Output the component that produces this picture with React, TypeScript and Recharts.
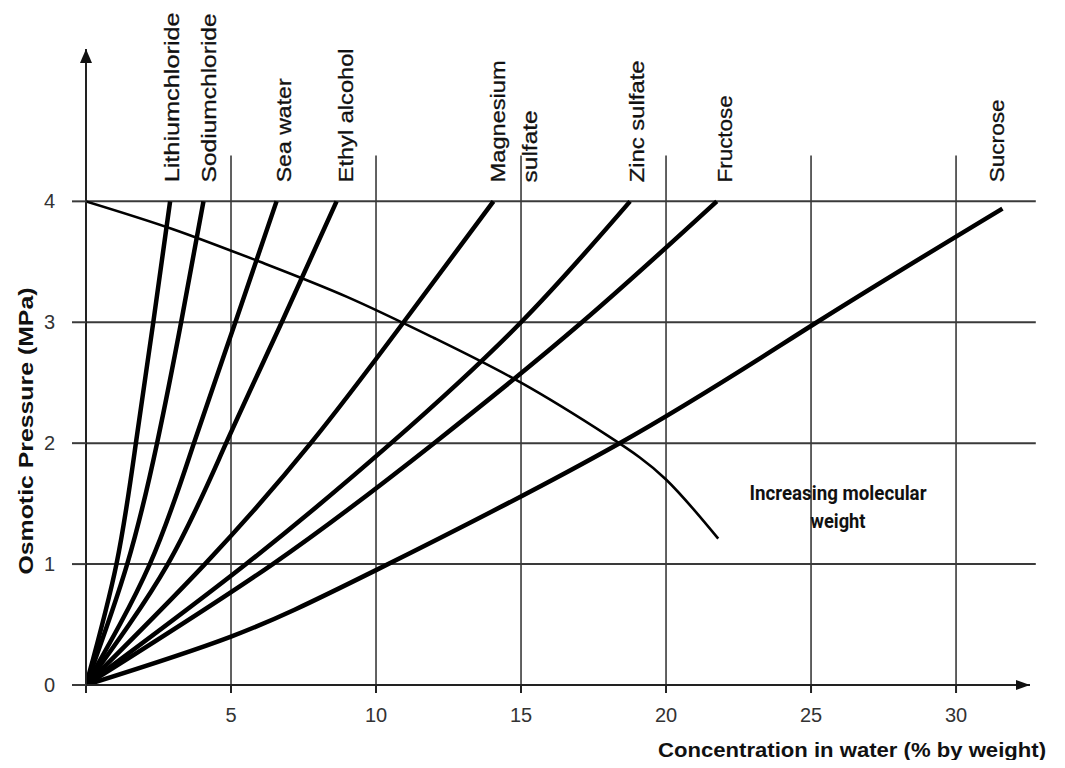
import React from "react";
import {
  LineChart,
  Line,
  XAxis,
  YAxis,
  ReferenceLine,
  ReferenceDot,
  Label,
} from "recharts";

const pressureLevels = [0, 1, 2, 3, 4];

// concentration (% by weight) reaching each pressure level
const lithiumChloride = [0, 1.05, 1.72, 2.32, 2.9];
const sodiumChloride = [0, 1.42, 2.45, 3.28, 4.05];
const seaWater = [0, 2.2, 3.72, 5.15, 6.57];
const ethylAlcohol = [0, 2.82, 4.83, 6.75, 8.64];
const magnesiumSulfate = [0, 4.1, 7.75, 10.95, 14.05];
const zincSulfate = [0, 5.52, 10.52, 15.0, 18.76];
const fructose = [0, 6.44, 12.0, 17.1, 21.75];

// sucrose stops short of 4 MPa
const sucroseConcentration = [0, 5, 10, 18.4, 25.2, 31.6];
const sucrosePressure = [0, 0.4, 0.95, 2, 3, 3.94];

// "increasing molecular weight" trend curve
const weightConcentration = [0, 3, 6, 9, 12, 15, 18, 20, 21.8];
const weightPressure = [4, 3.77, 3.5, 3.21, 2.87, 2.5, 2.06, 1.7, 1.21];

const xTicks = [0, 5, 10, 15, 20, 25, 30];
const yTicks = [0, 1, 2, 3, 4];
const gridX = [5, 10, 15, 20, 25, 30];
const gridY = [1, 2, 3, 4];

const curveLabels = [
  "Lithiumchloride",
  "Sodiumchloride",
  "Sea water",
  "Ethyl alcohol",
  "Magnesium",
  "sulfate",
  "Zinc sulfate",
  "Fructose",
  "Sucrose",
];

// label placement (data coords) and drawn lengths
const labelX = [2.96, 4.22, 6.81, 8.93, 14.2, 15.29, 18.99, 22.03, 31.4];
const labelBottom = 4.157;
const labelLength = [170, 169, 104, 134, 122, 72, 122, 87, 83];

const X_MAX = 32.55;
const Y_MAX = 5.26;
const GRID_TOP = 4.38;
const GRID_RIGHT = 32.75;

const FONT = "'Liberation Sans', Arial, sans-serif";
const GRID = "#3a3a3a";

const toPoints = (conc: number[], pressure: number[]) =>
  conc.map((c, i) => ({ c, p: pressure[i] }));

const solutes = [
  lithiumChloride,
  sodiumChloride,
  seaWater,
  ethylAlcohol,
  magnesiumSulfate,
  zincSulfate,
  fructose,
].map((conc) => toPoints(conc, pressureLevels));

const sucrose = toPoints(sucroseConcentration, sucrosePressure);
const weightCurve = toPoints(weightConcentration, weightPressure);

const rotatedLabel = (text: string, length: number) => (props: any) => {
  const { cx, cy } = props;
  return (
    <text
      x={cx}
      y={cy}
      dy="0.36em"
      transform={`rotate(-90 ${cx} ${cy})`}
      fontFamily={FONT}
      fontSize={21}
      textLength={length}
      lengthAdjust="spacingAndGlyphs"
      fill="#111"
      stroke="#111"
      strokeWidth={0.3}
    >
      {text}
    </text>
  );
};

const upArrow = (props: any) => {
  const { cx, cy } = props;
  return <polygon points={`${cx},${cy} ${cx - 6},${cy + 14} ${cx + 6},${cy + 14}`} fill="#111" />;
};

const rightArrow = (props: any) => {
  const { cx, cy } = props;
  return <polygon points={`${cx},${cy} ${cx - 14},${cy - 5} ${cx - 14},${cy + 5}`} fill="#111" />;
};

const weightNote = (props: any) => {
  const { cx, cy } = props;
  return (
    <text
      x={cx}
      y={cy}
      textAnchor="middle"
      fontFamily="Roboto, sans-serif"
      fontWeight={700}
      fontSize={20}
      fill="#111"
    >
      <tspan x={cx} textLength={177} lengthAdjust="spacingAndGlyphs">
        Increasing molecular
      </tspan>
      <tspan x={cx} dy={28} textLength={55} lengthAdjust="spacingAndGlyphs">
        weight
      </tspan>
    </text>
  );
};

const XTitle = () => (
  <text
    x={650}
    y={749}
    fontFamily={FONT}
    fontWeight="bold"
    fontSize={21}
    textLength={388}
    lengthAdjust="spacingAndGlyphs"
    fill="#111"
  >
    Concentration in water (% by weight)
  </text>
);

const YTitle = () => (
  <text
    x={25}
    y={423}
    textAnchor="middle"
    transform="rotate(-90 25 423)"
    fontFamily={FONT}
    fontWeight="bold"
    fontSize={21}
    textLength={287}
    lengthAdjust="spacingAndGlyphs"
    fill="#111"
  >
    Osmotic Pressure (MPa)
  </text>
);

export default function App() {
  return (
    <div style={{ width: 1049, height: 752, overflow: "hidden" }}>
      <LineChart
        width={1049}
        height={760}
        margin={{ top: 41, right: 27, bottom: 43, left: 0 }}
      >
        <XAxis
          type="number"
          dataKey="c"
          domain={[0, X_MAX]}
          ticks={xTicks}
          allowDataOverflow
          height={40}
          tickSize={8}
          tickMargin={15}
          tickFormatter={(v) => (v === 0 ? "" : String(v))}
          tick={{ fontSize: 20, fill: "#333", fontFamily: FONT }}
          axisLine={{ stroke: "#222", strokeWidth: 2 }}
          tickLine={{ stroke: "#222", strokeWidth: 2 }}
        >
          <Label content={XTitle} />
        </XAxis>
        <YAxis
          type="number"
          domain={[0, Y_MAX]}
          ticks={yTicks}
          allowDataOverflow
          width={78}
          tickSize={14}
          tickMargin={17}
          tick={{ fontSize: 20, fill: "#333", fontFamily: FONT }}
          axisLine={{ stroke: "#222", strokeWidth: 2 }}
          tickLine={{ stroke: GRID, strokeWidth: 2 }}
        >
          <Label content={YTitle} />
        </YAxis>

        {gridY.map((y) => (
          <ReferenceLine
            key={`gy-${y}`}
            segment={[
              { x: 0, y },
              { x: GRID_RIGHT, y },
            ]}
            stroke={GRID}
            strokeWidth={2}
            ifOverflow="visible"
          />
        ))}
        {gridX.map((x) => (
          <ReferenceLine
            key={`gx-${x}`}
            segment={[
              { x, y: 0 },
              { x, y: GRID_TOP },
            ]}
            stroke={GRID}
            strokeWidth={1.6}
            ifOverflow="visible"
          />
        ))}

        <ReferenceDot x={0} y={Y_MAX} r={0} shape={upArrow} ifOverflow="visible" />
        <ReferenceDot x={X_MAX} y={0} r={0} shape={rightArrow} ifOverflow="visible" />

        {solutes.map((pts, i) => (
          <Line
            key={`solute-${i}`}
            data={pts}
            dataKey="p"
            type="natural"
            stroke="#000"
            strokeWidth={4.5}
            dot={false}
            activeDot={false}
            isAnimationActive={false}
          />
        ))}
        <Line
          data={sucrose}
          dataKey="p"
          type="natural"
          stroke="#000"
          strokeWidth={4.5}
          dot={false}
          activeDot={false}
          isAnimationActive={false}
        />
        <Line
          data={weightCurve}
          dataKey="p"
          type="natural"
          stroke="#000"
          strokeWidth={2.6}
          dot={false}
          activeDot={false}
          isAnimationActive={false}
        />

        {curveLabels.map((name, i) => (
          <ReferenceDot
            key={`lbl-${i}`}
            x={labelX[i]}
            y={labelBottom}
            r={0}
            shape={rotatedLabel(name, labelLength[i])}
            ifOverflow="visible"
          />
        ))}
        <ReferenceDot x={25.93} y={1.53} r={0} shape={weightNote} ifOverflow="visible" />
      </LineChart>
    </div>
  );
}
